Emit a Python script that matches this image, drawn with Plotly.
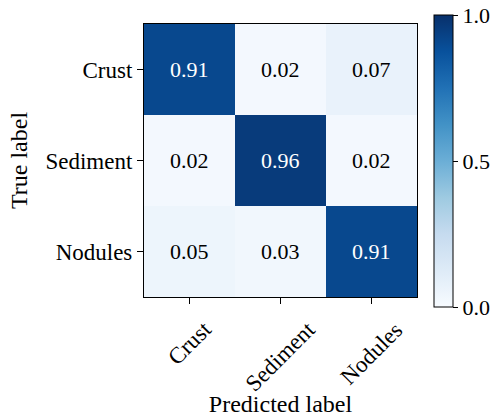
import plotly.graph_objects as go

# Normalised confusion matrix (rows: true class, columns: predicted class)
classes = ["Crust", "Sediment", "Nodules"]
row_crust = [0.91, 0.02, 0.07]
row_sediment = [0.02, 0.96, 0.02]
row_nodules = [0.05, 0.03, 0.91]
matrix = [row_crust, row_sediment, row_nodules]
cbar_ticks = [0.0, 0.5, 1.0]

FONT = "Liberation Serif"
FS = 23
FS_SMALL = 22

blues = [
    [0.000, "rgb(247,251,255)"], [0.125, "rgb(222,235,247)"],
    [0.250, "rgb(198,219,239)"], [0.375, "rgb(158,202,225)"],
    [0.500, "rgb(107,174,214)"], [0.625, "rgb(66,146,198)"],
    [0.750, "rgb(33,113,181)"], [0.875, "rgb(8,81,156)"],
    [1.000, "rgb(8,48,107)"],
]

fig = go.Figure(go.Heatmap(
    z=matrix, x=classes, y=classes,
    zmin=0, zmax=1, colorscale=blues,
    hoverinfo="skip",
    colorbar=dict(
        x=1.062, xanchor="left", xpad=0, y=0.498, yanchor="middle", ypad=0,
        thickness=19, len=292, lenmode="pixels",
        outlinewidth=1, outlinecolor="black",
        tickvals=cbar_ticks, tickformat=".1f",
        ticks="outside", ticklen=5, tickwidth=1, tickcolor="black",
        tickfont=dict(family=FONT, size=FS_SMALL, color="black"),
    ),
))

# Cell value labels: white on dark cells, black on light ones
for i, row in enumerate(matrix):
    for j, v in enumerate(row):
        fig.add_annotation(
            x=classes[j], y=classes[i], text=f"{v:.2f}", showarrow=False,
            font=dict(family=FONT, size=FS_SMALL,
                      color="white" if v > 0.5 else "black"),
        )

# Rotated predicted-class labels, centred under their ticks
for c in classes:
    fig.add_annotation(
        x=c, xref="x", y=-0.064, yref="paper",
        text=c, textangle=-45, showarrow=False,
        xanchor="center", yanchor="top",
        font=dict(family=FONT, size=FS, color="black"),
    )

axis_common = dict(
    showline=True, linecolor="black", linewidth=1.2, mirror=True,
    ticks="outside", ticklen=6, tickwidth=1, tickcolor="black",
    showgrid=False, zeroline=False,
    tickfont=dict(family=FONT, size=FS, color="black"),
)

fig.update_layout(
    width=490, height=417,
    margin=dict(l=144, r=73, t=24, b=120, autoexpand=False),
    paper_bgcolor="white", plot_bgcolor="white",
    xaxis=dict(**axis_common, showticklabels=False,
               title=dict(text="Predicted label", standoff=93,
                          font=dict(family=FONT, size=24, color="black"))),
    yaxis=dict(**axis_common, autorange="reversed",
               title=dict(text="True label", standoff=11,
                          font=dict(family=FONT, size=24, color="black"))),
)

fig.write_html("out.html")
